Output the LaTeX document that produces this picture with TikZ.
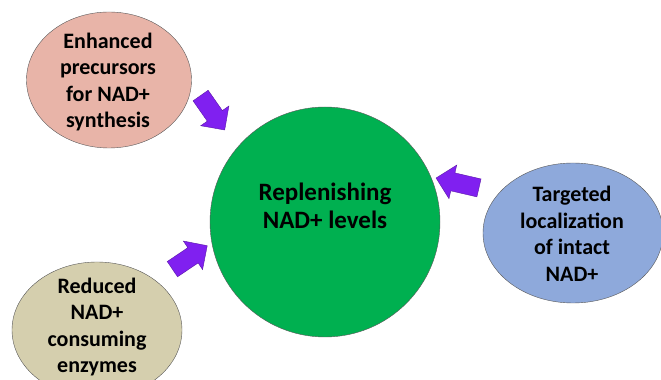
\documentclass[tikz,border=0pt]{standalone}
\usepackage{fontspec}
\setmainfont{Carlito}
\usetikzlibrary{shapes.geometric,shapes.arrows}
\definecolor{pinkfill}{HTML}{E8B4A8}
\definecolor{greenfill}{HTML}{00B050}
\definecolor{bluefill}{HTML}{8EA9DB}
\definecolor{olivefill}{HTML}{D5CFAE}
\definecolor{arrowfill}{HTML}{8020F0}
\tikzset{
  blob/.style={ellipse, draw=black!65, thin, inner sep=0pt},
  blobtext/.style={align=center, font=\fontsize{22}{26.5}\selectfont\bfseries},
  fatarrow/.style={single arrow, draw=arrowfill!70!black, fill=arrowfill,
    inner xsep=0pt, inner ysep=9pt, single arrow head extend=8pt,
    single arrow head indent=0pt}
}
\begin{document}
\begin{tikzpicture}[x=1pt,y=1pt]
\clip (0,0) rectangle (661,380);
\fill[white] (0,0) rectangle (661,380);
\node[blob, fill=pinkfill, minimum width=165pt, minimum height=136pt] (0) at (109,300) {};
\node[blobtext] (0t) at (108,298) {Enhanced\\precursors\\for NAD+\\synthesis};
\node[circle, fill=greenfill, draw=black!65, thin, minimum size=230pt] (1) at (325,158) {};
\node[align=center, font=\fontsize{25}{28}\selectfont\bfseries] (1t) at (325,174) {Replenishing\\NAD+ levels};
\node[blob, fill=bluefill, minimum width=180pt, minimum height=140pt] (2) at (573,147) {};
\node[blobtext] (2t) at (572,146) {Targeted\\localization\\of intact\\NAD+};
\node[blob, fill=olivefill, minimum width=170pt, minimum height=136pt] (3) at (97,50) {};
\node[blobtext] (3t) at (97,53) {Reduced\\NAD+\\consuming\\enzymes};
% block arrows
\node[fatarrow, minimum height=42pt, rotate=-55] (a0) at (210,271) {};
\node[fatarrow, minimum height=42pt, rotate=34] (a3) at (186,120) {};
\node[fatarrow, minimum height=44pt, rotate=167] (a2) at (462,196) {};
\end{tikzpicture}
\end{document}
